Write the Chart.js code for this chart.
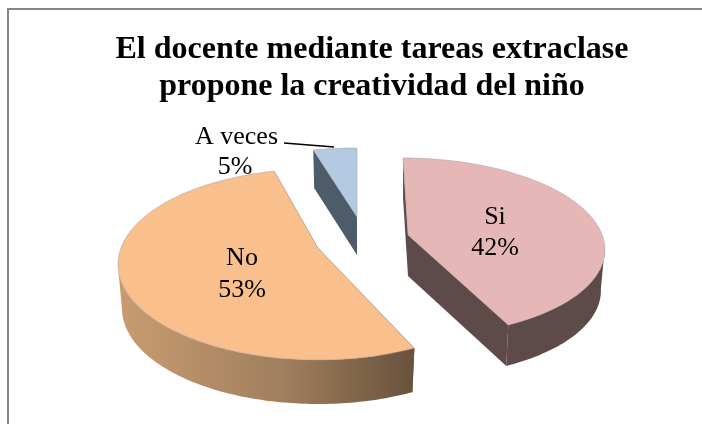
<!DOCTYPE html>
<html><head><meta charset="utf-8">
<script src="https://cdn.jsdelivr.net/npm/chart.js@4/dist/chart.umd.min.js"></script>
<style>
html,body{margin:0;padding:0;background:#fff;overflow:hidden}
#frame{position:absolute;left:7px;top:8px;width:710px;height:430px;border:2px solid #868686;box-sizing:border-box;background:#fff}
canvas{position:absolute;left:0;top:0}
</style></head><body>
<div id="frame"></div>
<canvas id="c" width="702" height="424"></canvas>
<script>
const categories = ["Si", "No", "A veces"];
const percentages = [42, 53, 5];
const titleLines = ["El docente mediante tareas extraclase", "propone la creatividad del niño"];
const topColors = ["#E5B8B7", "#F9BF8D", "#B4C9E2"];
const wallColors = ["#5E4A48", null, "#4E5C69"];
const drawOrder = [2, 0, 1];

const SERIF = '"Liberation Serif","Times New Roman",serif';
const LABEL_FONT = '26px ' + SERIF;
const WARP = 1.45;
// per-slice projection of the exploded 3D pie
const geometry = [
  {ax:408, ay:235, rx:196, ry:89, off:12, depth:41, shear:.065, lx:495, ly:[217,248]},
  {ax:318, ay:248, rx:200, ry:95.6, off:16.4, depth:44, shear:0, lx:242, ly:[258,290]},
  {ax:357, ay:217, rx:200, ry:85, off:16, depth:38, shear:0}
];

function warp(theta){ // perspective: far side of the pie looks narrower
  const s=Math.sin(theta), c=Math.cos(theta);
  return c>0 ? Math.atan2(s,c*WARP) : theta;
}
function outline(g,t0,t1){
  const pts=[], n=Math.max(2,Math.ceil((t1-t0)/0.02));
  for(let i=0;i<=n;i++){
    const p=warp(t0+(t1-t0)*i/n);
    const dx=g.rx*Math.sin(p), dy=g.off-g.ry*Math.cos(p);
    pts.push([g.ax+dx+g.shear*dy, g.ay+dy]);
  }
  return pts;
}
const low=(g,p)=>[g.ax+(p[0]-g.ax)*0.98, p[1]+g.depth];
function strip(ctx,g,line,fill){
  if(line.length<2) return;
  ctx.beginPath();
  line.forEach((p,k)=>k?ctx.lineTo(p[0],p[1]):ctx.moveTo(p[0],p[1]));
  [...line].reverse().forEach(p=>{const q=low(g,p);ctx.lineTo(q[0],q[1]);});
  ctx.closePath();ctx.fillStyle=fill;ctx.fill();
}
const pie3d = {
  id:'pie3d',
  beforeDatasetDraw(){ return false; },
  afterDatasetsDraw(chart){
    const ctx=chart.ctx, arcs=chart.getDatasetMeta(0).data;
    ctx.save();
    for(const i of drawOrder){
      const arc=arcs[i], g=geometry[i];
      const t0=arc.startAngle+Math.PI/2, t1=arc.endAngle+Math.PI/2;
      const pts=outline(g,t0,t1), apex=[g.ax,g.ay];
      let wall=wallColors[i];
      if(!wall){
        wall=ctx.createLinearGradient(g.ax-g.rx,0,g.ax+100,0);
        wall.addColorStop(0,'#C99C70');wall.addColorStop(.55,'#A07F5E');wall.addColorStop(1,'#67503A');
      }
      strip(ctx,g,[apex,pts[0]],wall);
      strip(ctx,g,[pts[pts.length-1],apex],wall);
      strip(ctx,g,pts.filter(p=>p[1]>=g.ay+g.off),wall);
      ctx.beginPath();ctx.moveTo(apex[0],apex[1]);
      pts.forEach(p=>ctx.lineTo(p[0],p[1]));
      ctx.closePath();
      ctx.fillStyle=topColors[i];ctx.fill();
      ctx.strokeStyle='rgba(150,150,150,.45)';ctx.lineWidth=1;ctx.stroke();
    }
    ctx.fillStyle='#000';ctx.font=LABEL_FONT;ctx.textAlign='center';ctx.textBaseline='middle';
    [0,1].forEach(i=>{
      const g=geometry[i];
      ctx.fillText(categories[i],g.lx,g.ly[0]);
      ctx.fillText(percentages[i]+'%',g.lx,g.ly[1]);
    });
    ctx.fillText(categories[2],236.5,137);
    ctx.fillText(percentages[2]+'%',235,167);
    ctx.beginPath();ctx.moveTo(284,143);ctx.lineTo(334,147);ctx.strokeStyle='#000';ctx.lineWidth=1.5;ctx.stroke();
    ctx.restore();
  }
};
new Chart(document.getElementById('c'),{
  type:'pie',
  data:{labels:categories,datasets:[{data:percentages,backgroundColor:topColors,borderWidth:0}]},
  options:{
    responsive:false,animation:false,
    rotation:0,
    layout:{padding:{top:31,left:42}},
    plugins:{
      legend:{display:false},tooltip:{enabled:false},
      title:{display:true,text:titleLines,color:'#000',align:'center',fullSize:false,
        font:{family:SERIF,size:32,weight:'bold',lineHeight:1.156},padding:0}
    }
  },
  plugins:[pie3d]
});
</script>
</body></html>
